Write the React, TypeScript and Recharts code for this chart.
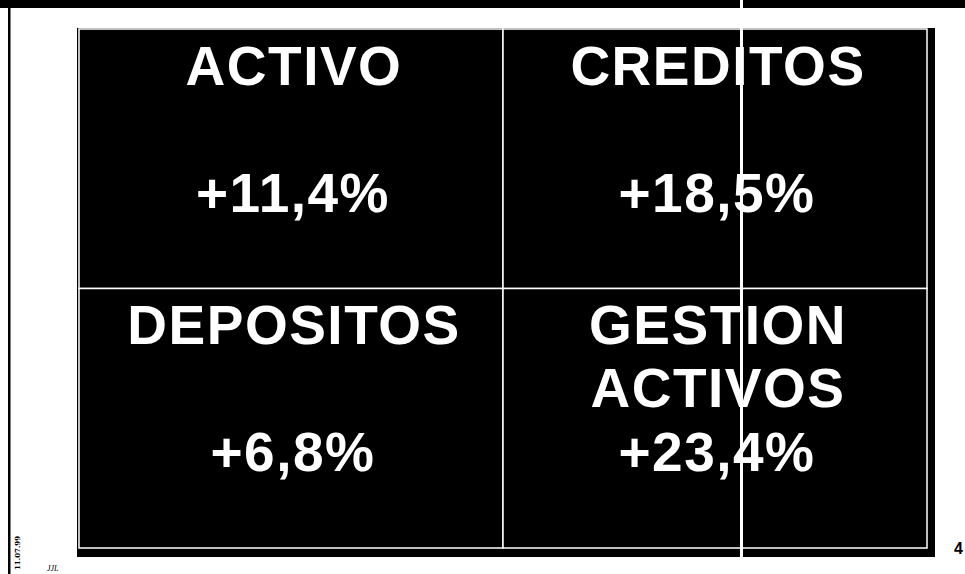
import React from "react";
import { ScatterChart, XAxis, YAxis, ReferenceArea, Scatter } from "recharts";

// ---- data ----
const categories = ["ACTIVO", "CREDITOS", "DEPOSITOS", "GESTION ACTIVOS"];
const growthPct = [11.4, 18.5, 6.8, 23.4];
const columnIndex = [0, 1, 0, 1];
const rowIndex = [0, 0, 1, 1];
const pageNumber = "4";
const stampDate = "11.07.99";
const stampInitials = "JJL";

const W = 965;
const H = 574;
const FONT = "'Liberation Sans', Arial, Helvetica, sans-serif";

const fmt = (v: number) => "+" + v.toFixed(1).replace(".", ",") + "%";

const cells = categories.map((name, i) => ({
  name,
  value: growthPct[i],
  col: columnIndex[i],
  row: rowIndex[i],
  x: columnIndex[i] + 0.5,
  y: rowIndex[i] + 0.5,
}));

const FrameShape = (props: any) => {
  const { x, y, width, height } = props;
  return <rect x={x - 2} y={y - 1} width={width + 10} height={height + 10} fill="#000" />;
};

const CellShape = (props: any) => {
  const { x, y, width, height } = props;
  return <rect x={x} y={y} width={width} height={height} fill="#000" stroke="#fff" strokeWidth={1.5} />;
};

const LabelShape = (props: any) => {
  const { cx, cy, payload } = props;
  const words: string[] = payload.name.split(" ");
  const style = {
    fontFamily: FONT,
    fontWeight: 700,
    fontSize: 55,
    letterSpacing: 1.5,
    fill: "#fff",
  } as const;
  return (
    <g>
      {words.map((w, k) => (
        <text key={k} x={cx + 3} y={cy - 74 + k * 63} textAnchor="middle" {...style}>
          {w}
        </text>
      ))}
      <text x={cx + 2} y={cy + 53} textAnchor="middle" {...style}>
        {fmt(payload.value)}
      </text>
    </g>
  );
};

const Decor = () => (
  <svg width={W} height={H} style={{ position: "absolute", left: 0, top: 0, pointerEvents: "none" }}>
    {/* scan border: top bar and left rule */}
    <rect x={0} y={0} width={W} height={8} fill="#000" />
    <rect x={8} y={0} width={2.5} height={H} fill="#000" />
    {/* crease line */}
    <rect x={740} y={0} width={3} height={557} fill="#fff" />
    {/* page number at the right edge */}
    <text x={954} y={554} fontFamily={FONT} fontWeight={700} fontSize={16} fill="#000">
      {pageNumber}
    </text>
    {/* stamp */}
    <text
      x={20}
      y={570}
      transform="rotate(-90 20 570)"
      fontFamily="'DejaVu Serif', serif"
      fontSize={7}
      fontWeight={700}
      fill="#000"
    >
      {stampDate}
    </text>
    <text x={47} y={571} fontFamily="'Liberation Serif', serif" fontStyle="italic" fontSize={8} fill="#000">
      {stampInitials}
    </text>
  </svg>
);

export default function App() {
  return (
    <div style={{ position: "absolute", left: 0, top: 0, width: W, height: H, background: "#fff" }}>
      <ScatterChart width={W} height={H} margin={{ top: 29, right: 38, bottom: 26, left: 79 }}>
        <XAxis type="number" dataKey="x" domain={[0, 2]} hide />
        <YAxis type="number" dataKey="y" domain={[0, 2]} reversed hide />
        <ReferenceArea x1={0} x2={2} y1={0} y2={2} shape={FrameShape} ifOverflow="visible" />
        {cells.map((c) => (
          <ReferenceArea
            key={c.name}
            x1={c.col}
            x2={c.col + 1}
            y1={c.row}
            y2={c.row + 1}
            shape={CellShape}
            ifOverflow="visible"
          />
        ))}
        <Scatter data={cells} shape={LabelShape} isAnimationActive={false} />
      </ScatterChart>
      <Decor />
    </div>
  );
}
